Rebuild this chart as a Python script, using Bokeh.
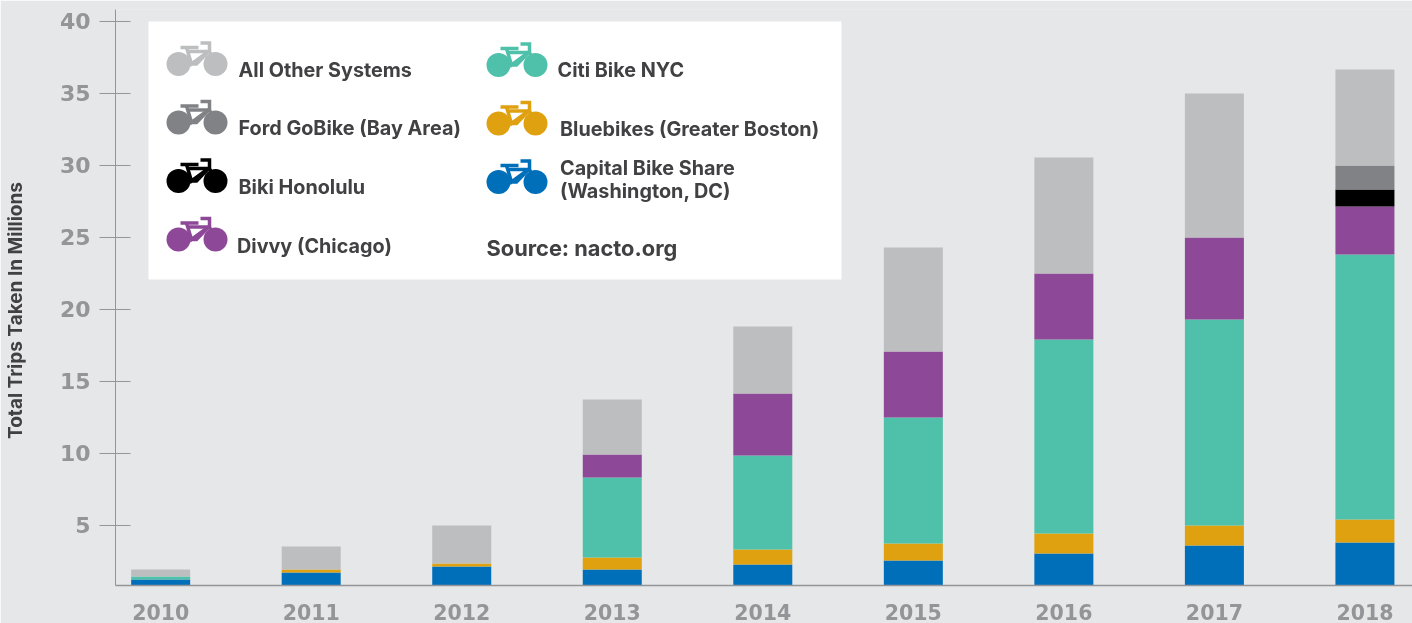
import math
from bokeh.embed import file_html
from bokeh.resources import INLINE
from bokeh.plotting import figure
from bokeh.models import Range1d, ColumnDataSource
from bokeh.core.properties import value

# ---- data (millions of trips) ----
years = [2010, 2011, 2012, 2013, 2014, 2015, 2016, 2017, 2018]
capital = [1.25, 1.74, 2.15, 1.94, 2.29, 2.57, 3.06, 3.61, 3.82]
bluebikes = [0, 0.20, 0.21, 0.84, 1.04, 1.18, 1.38, 1.39, 1.60]
citi = [0.21, 0, 0, 5.55, 6.53, 8.75, 13.48, 14.31, 18.40]
divvy = [0, 0, 0, 1.60, 4.31, 4.58, 4.58, 5.69, 3.33]
biki = [0, 0, 0, 0, 0, 0, 0, 0, 1.18]
ford = [0, 0, 0, 0, 0, 0, 0, 0, 1.67]
other = [0.48, 1.60, 2.64, 3.82, 4.65, 7.23, 8.06, 10.00, 6.67]
y_ticks = [5, 10, 15, 20, 25, 30, 35, 40]
y_title = "Total Trips Taken In Millions"
legend_left = ["All Other Systems", "Ford GoBike (Bay Area)", "Biki Honolulu", "Divvy (Chicago)"]
legend_right = ["Citi Bike NYC", "Bluebikes (Greater Boston)", "Capital Bike Share", "(Washington, DC)"]
source_note = "Source: nacto.org"

BG = "#E6E7E8"
AX = "#939598"
DARK = "#414042"
C_OTHER, C_FORD, C_BIKI, C_DIVVY = "#BCBEC0", "#808285", "#000000", "#8E4898"
C_CITI, C_BLUE, C_CAP = "#4FC0A9", "#DFA10F", "#006FBA"
FONT = "Inter"
TICK_FONT = "DejaVu Sans"

W, H = 1412, 623
p = figure(width=W, height=H, output_backend="svg", toolbar_location=None,
           x_range=Range1d(2009.70, 2018.316), y_range=Range1d(0.83, 40.83),
           min_border_left=115, min_border_right=0, min_border_top=9, min_border_bottom=38,
           background_fill_color=BG, border_fill_color=BG, outline_line_color=None)
p.styles = {"position": "fixed", "left": "0", "top": "0"}
p.grid.visible = False

src = ColumnDataSource(dict(year=years, capital=capital, bluebikes=bluebikes, citi=citi,
                            divvy=divvy, biki=biki, ford=ford, other=other))
p.vbar_stack(["capital", "bluebikes", "citi", "divvy", "biki", "ford", "other"], x="year",
             width=0.392, source=src,
             color=[C_CAP, C_BLUE, C_CITI, C_DIVVY, C_BIKI, C_FORD, C_OTHER], line_width=0)

xa, ya = p.xaxis[0], p.yaxis[0]
xa.ticker = []
xa.major_tick_line_color = None
xa.minor_tick_line_color = None
xa.axis_line_color = AX
xa.axis_line_width = 1.5

ya.ticker = y_ticks
ya.minor_tick_line_color = None
ya.axis_line_color = AX
ya.major_tick_line_color = AX
ya.major_tick_in = 15
ya.major_tick_out = 16
ya.major_label_text_color = AX
ya.major_label_text_font = TICK_FONT
ya.major_label_text_font_style = "bold"
ya.major_label_text_font_size = "22px"
ya.major_label_standoff = 9

# ---- pixel scale for the panel and the texts set outside the axes ----
p.extra_x_ranges["px"] = Range1d(115, W)
p.extra_y_ranges["px"] = Range1d(H - 38, 9)   # y grows downward


def px(method, **kw):
    return getattr(p, method)(x_range_name="px", y_range_name="px", **kw)


# year labels: x from the data scale, y from the pixel scale
p.text(x=years, y=[611] * len(years), text=[str(y) for y in years], y_range_name="px",
       text_font=value(TICK_FONT), text_font_style="bold", text_font_size="20.5px", text_color=AX,
       text_align="center", text_baseline="middle", level="annotation")

# y title, also set outside the left axis
px("text", x=[15], y=[310], text=[y_title], angle=math.pi / 2, text_font=value(FONT),
   text_font_style="bold", text_font_size="19px", text_color=DARK,
   text_align="center", text_baseline="middle", level="annotation")

px("quad", left=[148], right=[841], top=[21], bottom=[279], color="#FFFFFF", line_width=0)


def bike(x0, y0, color):
    """Bike icon whose left wheel centre is x0, y0."""
    px("circle", x=[x0, x0 + 37], y=[y0, y0], radius=12, radius_units="screen",
       color=color, line_width=0)
    xs = [[x0 + 2, x0 + 20], [x0 + 8, x0 + 13, x0 + 30, x0 + 18, x0],
          [x0 + 10, x0 + 30], [x0 + 22, x0 + 31, x0 + 31, x0 + 37]]
    ys = [[y0 - 16.5, y0 - 16.5], [y0 - 16.5, y0, y0 - 12.5, y0, y0],
          [y0 - 12.5, y0 - 12.5], [y0 - 21, y0 - 21, y0 - 12.5, y0]]
    px("multi_line", xs=xs, ys=ys, line_color=color, line_width=3.5, line_join="miter")


def label(x, y, txt, size="19.8px"):
    px("text", x=[x], y=[y], text=[txt], text_font=value(FONT), text_font_style="bold",
       text_font_size=size, text_color=DARK, text_baseline="middle", text_align="left")


for y0, c, t, tx, ty in zip([63.5, 122, 180.5, 239], [C_OTHER, C_FORD, C_BIKI, C_DIVVY], legend_left,
                            [238, 238, 238, 236.5], [69, 127.5, 186.5, 245]):
    bike(178, y0, c)
    label(tx, ty, t)
for y0, c in zip([64.5, 123, 181.5], [C_CITI, C_BLUE, C_CAP]):
    bike(498, y0, c)
label(557, 69.5, legend_right[0])
label(559.5, 128, legend_right[1])
label(559.5, 167.5, legend_right[2])
label(559.5, 190, legend_right[3])
label(486, 247, source_note, "21.8px")

open("out.html", "w").write(file_html(p, INLINE))
